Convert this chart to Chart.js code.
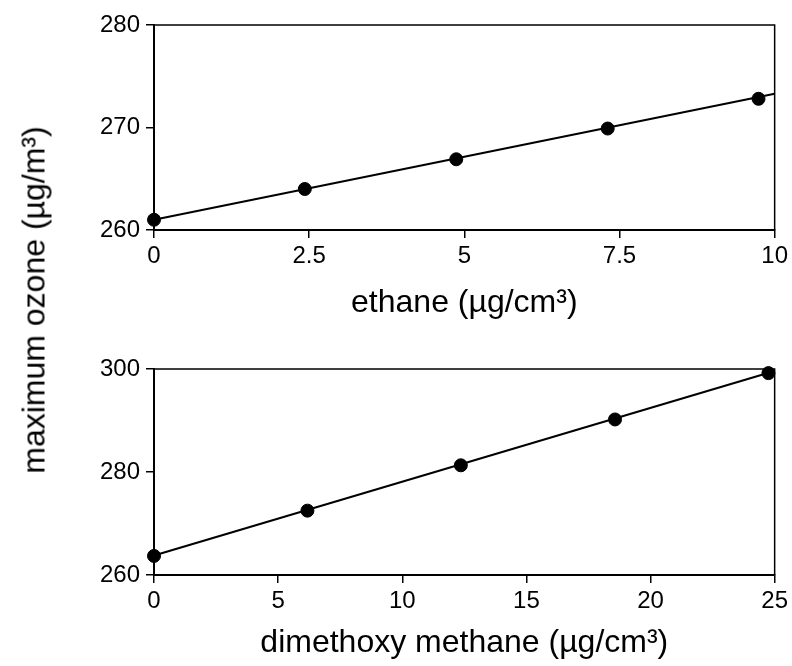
<!DOCTYPE html>
<html>
<head>
<meta charset="utf-8">
<script src="https://cdn.jsdelivr.net/npm/chart.js@4.4.0/dist/chart.umd.min.js"></script>
<style>
body { margin: 0; background: #fff; }
#wrap { position: relative; width: 792px; height: 666px; }
canvas { position: absolute; left: 0; }
#ytitle {
    position: absolute; left: 34px; top: 300px;
    transform: translate(-50%, -50%) rotate(-90deg);
    white-space: nowrap; color: #000;
    font: 32px "Liberation Sans", Arial, sans-serif;
}
</style>
</head>
<body>
<div id="wrap">
    <canvas id="chart_ethane" width="792" height="326" style="top:0px"></canvas>
    <canvas id="chart_dmm" width="792" height="326" style="top:340px"></canvas>
    <div id="ytitle">maximum ozone (µg/m³)</div>
</div>
<script>
// Data
const ethaneX = [0, 2.43, 4.87, 7.31, 9.74];
const ethaneOzone = [261.0, 264.0, 266.9, 269.9, 272.8];
const ethaneFitX = [0, 10];
const ethaneFitY = [261.0, 273.3];

const dmmX = [0, 6.18, 12.36, 18.57, 24.75];
const dmmOzone = [263.7, 272.5, 281.3, 290.2, 299.2];
const dmmFitX = [0, 25];
const dmmFitY = [263.8, 299.6];

Chart.defaults.font.family = '"Liberation Sans", Arial, sans-serif';
Chart.defaults.color = '#000';

// draws the top and right edge of the plot box
const boxPlugin = {
    id: 'box',
    beforeDatasetsDraw(chart) {
        const a = chart.chartArea;
        const ctx = chart.ctx;
        ctx.save();
        ctx.strokeStyle = '#000';
        ctx.lineWidth = 1.5;
        ctx.beginPath();
        ctx.moveTo(a.left, a.top);
        ctx.lineTo(a.right, a.top);
        ctx.lineTo(a.right, a.bottom);
        ctx.stroke();
        ctx.restore();
    }
};

function toPoints(xs, ys) {
    return xs.map((x, i) => ({x: x, y: ys[i]}));
}

function makeChart(id, xs, ys, fx, fy, opt) {
    const ctx = document.getElementById(id).getContext('2d');
    return new Chart(ctx, {
        type: 'scatter',
        data: {
            datasets: [
                {
                    data: toPoints(fx, fy),
                    showLine: true,
                    borderColor: '#000',
                    borderWidth: 2,
                    pointRadius: 0,
                    clip: false
                },
                {
                    data: toPoints(xs, ys),
                    backgroundColor: '#000',
                    borderColor: '#000',
                    pointRadius: 6.5,
                    clip: false
                }
            ]
        },
        options: {
            responsive: false,
            animation: false,
            layout: { padding: { left: 0, right: 15, top: opt.padTop, bottom: 4 } },
            plugins: { legend: { display: false }, tooltip: { enabled: false } },
            scales: {
                x: {
                    type: 'linear',
                    min: 0, max: opt.xMax,
                    afterFit: s => { s.height = opt.xHeight; },
                    ticks: { stepSize: opt.xStep, font: { size: 24 }, padding: 4, maxRotation: 0 },
                    grid: { drawOnChartArea: false, drawTicks: true, tickLength: 8, color: '#000', lineWidth: 1.5 },
                    border: { display: true, color: '#000', width: 2 },
                    title: { display: true, text: opt.title, font: { size: 32 }, padding: { top: 0, bottom: 0 } }
                },
                y: {
                    type: 'linear',
                    min: opt.yMin, max: opt.yMax,
                    afterFit: s => { s.width = 154; },
                    ticks: { stepSize: opt.yStep, font: { size: 24 }, padding: 6 },
                    grid: { drawOnChartArea: false, drawTicks: true, tickLength: 8, color: '#000', lineWidth: 1.5 },
                    border: { display: true, color: '#000', width: 2 }
                }
            }
        },
        plugins: [boxPlugin]
    });
}

makeChart('chart_ethane', ethaneX, ethaneOzone, ethaneFitX, ethaneFitY, {
    xMax: 10, xStep: 2.5, yMin: 260, yMax: 280, yStep: 10,
    title: 'ethane (µg/cm³)', padTop: 25, xHeight: 92
});

makeChart('chart_dmm', dmmX, dmmOzone, dmmFitX, dmmFitY, {
    xMax: 25, xStep: 5, yMin: 260, yMax: 300, yStep: 20,
    title: 'dimethoxy methane (µg/cm³)', padTop: 29, xHeight: 87
});
</script>
</body>
</html>
